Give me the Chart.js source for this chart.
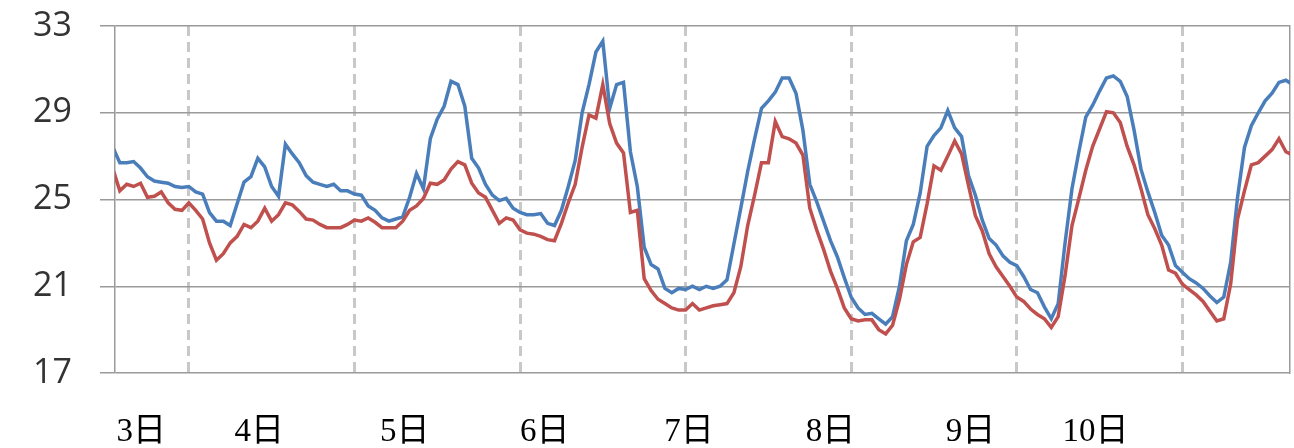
<!DOCTYPE html>
<html lang="ja">
<head>
    <meta charset="UTF-8">
    <title>気温の推移</title>
    <script src="https://cdn.jsdelivr.net/npm/chart.js"></script>
    <style>
        html, body { margin: 0; padding: 0; background: #fff; }
        #wrap { width: 1294px; height: 448px; position: relative; }
    </style>
</head>
<body>
    <div id="wrap"><canvas id="tempChart"></canvas></div>

    <script>
        // 1時間ごとの値（3日13時から）
        const startHour = 13;
        const blueTemps = [
            27.4, 26.7, 26.7, 26.75, 26.45, 26.05, 25.85, 25.8, 25.75, 25.6, 25.55, 25.6, 25.35, 25.25, 24.4, 24.0, 24.0, 23.8, 24.8, 25.8,
            26.05, 26.9, 26.5, 25.6, 25.15, 27.55, 27.1, 26.7, 26.1, 25.8, 25.7, 25.6, 25.7, 25.4, 25.4, 25.25, 25.2, 24.7, 24.5, 24.15,
            24.0, 24.1, 24.2, 25.1, 26.2, 25.5, 27.8, 28.7, 29.3, 30.45, 30.3, 29.3, 26.9, 26.45, 25.7, 25.2, 24.95, 25.05, 24.6, 24.4,
            24.3, 24.3, 24.35, 23.9, 23.8, 24.5, 25.6, 26.8, 29.0, 30.3, 31.8, 32.3, 29.2, 30.3, 30.4, 27.2, 25.6, 22.8, 22.0, 21.8,
            20.9, 20.7, 20.9, 20.85, 21.0, 20.85, 21.0, 20.9, 21.0, 21.3, 22.95, 24.6, 26.3, 27.8, 29.2, 29.55, 29.95, 30.6, 30.6, 29.9,
            28.2, 25.7, 24.9, 24.0, 23.1, 22.35, 21.4, 20.5, 20.0, 19.7, 19.75, 19.5, 19.25, 19.6, 21.0, 23.1, 23.85, 25.3, 27.45, 27.95,
            28.3, 29.1, 28.3, 27.9, 26.1, 25.2, 24.05, 23.2, 22.9, 22.4, 22.1, 21.95, 21.45, 20.85, 20.7, 20.05, 19.5, 20.2, 23.0, 25.5,
            27.2, 28.8, 29.35, 30.0, 30.6, 30.7, 30.45, 29.75, 28.2, 26.4, 25.35, 24.4, 23.35, 22.9, 21.95, 21.65, 21.35, 21.15, 20.9, 20.55,
            20.25, 20.5, 22.1, 25.1, 27.4, 28.4, 29.0, 29.55, 29.9, 30.4, 30.5, 30.3
        ];
        const redTemps = [
            26.4, 25.4, 25.7, 25.6, 25.75, 25.1, 25.15, 25.35, 24.85, 24.55, 24.5, 24.85, 24.5, 24.1, 23.0, 22.2, 22.5, 23.0, 23.3, 23.85,
            23.7, 24.0, 24.6, 24.0, 24.3, 24.85, 24.75, 24.45, 24.1, 24.05, 23.85, 23.7, 23.7, 23.7, 23.85, 24.05, 24.0, 24.15, 23.95, 23.7,
            23.7, 23.7, 24.0, 24.5, 24.7, 25.05, 25.75, 25.7, 25.9, 26.4, 26.75, 26.6, 25.75, 25.3, 25.1, 24.5, 23.9, 24.15, 24.05, 23.6,
            23.45, 23.4, 23.3, 23.15, 23.1, 23.9, 24.85, 25.7, 27.4, 28.9, 28.75, 30.3, 28.5, 27.6, 27.15, 24.4, 24.5, 21.35, 20.8, 20.4,
            20.2, 20.0, 19.9, 19.9, 20.2, 19.9, 20.0, 20.1, 20.15, 20.2, 20.7, 21.9, 23.8, 25.2, 26.7, 26.7, 28.6, 27.9, 27.8, 27.6,
            27.05, 24.6, 23.6, 22.7, 21.7, 20.9, 20.0, 19.5, 19.4, 19.45, 19.45, 19.0, 18.8, 19.2, 20.4, 22.0, 23.05, 23.25, 24.8, 26.55,
            26.35, 27.0, 27.7, 27.1, 25.65, 24.25, 23.55, 22.5, 21.9, 21.45, 21.0, 20.5, 20.3, 19.95, 19.7, 19.5, 19.1, 19.6, 21.5, 23.8,
            25.05, 26.35, 27.45, 28.25, 29.05, 29.0, 28.55, 27.45, 26.6, 25.5, 24.3, 23.65, 22.9, 21.75, 21.6, 21.1, 20.85, 20.6, 20.3, 19.85,
            19.4, 19.5, 21.1, 24.1, 25.4, 26.6, 26.7, 27.0, 27.3, 27.8, 27.2, 27.05
        ];

        // 日付の区切り（時間）と日付ラベルの位置
        const dayLines = [24, 48, 72, 96, 120, 144, 168];
        const dayLabels = ['3日', '4日', '5日', '6日', '7日', '8日', '9日', '10日'];
        const labelHours = [17.1, 34.2, 55.3, 75.6, 96.5, 117, 137.3, 155.4];
        const yTicks = [17, 21, 25, 29, 33];

        const xMin = 13.3;
        const xMax = 183.6;

        const toPoints = arr => arr.map((v, i) => ({ x: startHour + i, y: v }));

        const ctx = document.getElementById('tempChart').getContext('2d');
        new Chart(ctx, {
            type: 'line',
            data: {
                datasets: [
                    {
                        label: 'red',
                        data: toPoints(redTemps),
                        borderColor: '#c0504d',
                        borderWidth: 3.5,
                        pointRadius: 0,
                        tension: 0,
                        fill: false
                    },
                    {
                        label: 'blue',
                        data: toPoints(blueTemps),
                        borderColor: '#4a7ebb',
                        borderWidth: 3.5,
                        pointRadius: 0,
                        tension: 0,
                        fill: false
                    }
                ]
            },
            options: {
                responsive: true,
                maintainAspectRatio: false,
                animation: false,
                layout: { padding: { top: 26, right: 4, left: 0, bottom: 0 } },
                plugins: {
                    legend: { display: false },
                    tooltip: { enabled: false }
                },
                scales: {
                    x: {
                        type: 'linear',
                        position: 'bottom',
                        min: xMin,
                        max: xMax,
                        afterBuildTicks: axis => { axis.ticks = dayLines.map(v => ({ value: v })); },
                        afterFit: axis => { axis.height = 0; },
                        ticks: { display: false },
                        grid: { color: '#c8c8c8', lineWidth: 3, drawTicks: false },
                        border: { display: false, dash: [10, 6] }
                    },
                    x2: {
                        type: 'linear',
                        position: 'bottom',
                        min: xMin,
                        max: xMax,
                        afterBuildTicks: axis => { axis.ticks = labelHours.map(v => ({ value: v })); },
                        afterFit: axis => { axis.height = 75; },
                        grid: { display: false, drawTicks: false },
                        border: { display: false },
                        ticks: {
                            autoSkip: false,
                            maxRotation: 0,
                            padding: 40,
                            color: '#000',
                            font: { family: '"Liberation Serif", "Noto Sans CJK JP", serif', size: 33 },
                            callback: (value, index) => dayLabels[index]
                        }
                    },
                    y: {
                        min: 17,
                        max: 33,
                        afterBuildTicks: axis => { axis.ticks = yTicks.map(v => ({ value: v })); },
                        afterFit: axis => {
                            axis.width = 115;
                            axis.paddingTop = 0;
                            axis.paddingBottom = 0;
                        },
                        grid: { color: '#9a9a9a', lineWidth: 1.5, tickLength: 15 },
                        border: { display: true, color: '#9a9a9a', width: 1.5 },
                        ticks: {
                            padding: 28,
                            color: '#333',
                            font: { family: '"Open Sans", sans-serif', size: 34 }
                        }
                    },
                    yRight: {
                        position: 'right',
                        min: 17,
                        max: 33,
                        afterFit: axis => {
                            axis.width = 0;
                            axis.paddingTop = 0;
                            axis.paddingBottom = 0;
                        },
                        ticks: { display: false },
                        grid: { display: false, drawTicks: false },
                        border: { display: true, color: '#9a9a9a', width: 1.5 }
                    }
                }
            }
        });
    </script>
</body>
</html>
